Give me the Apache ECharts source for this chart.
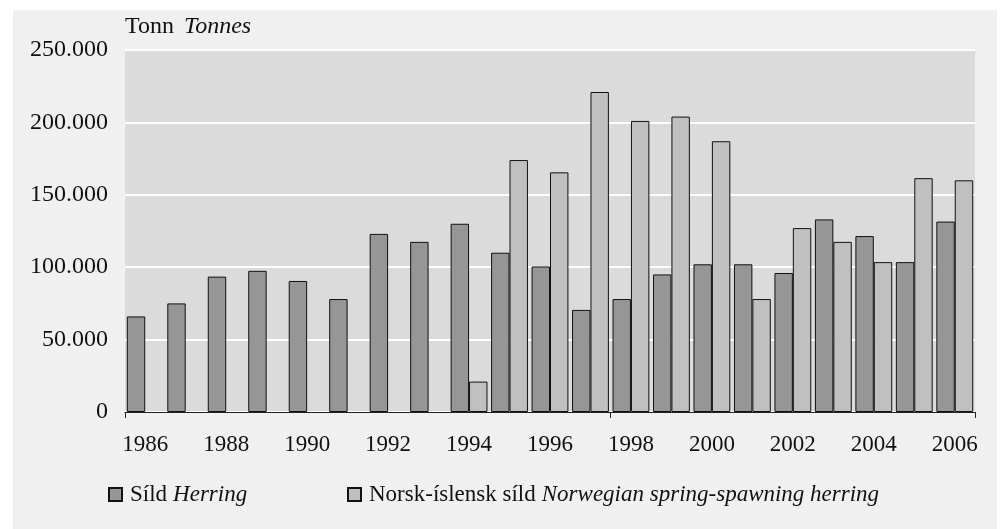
<!DOCTYPE html>
<html>
<head>
<meta charset="utf-8">
<script src="https://cdn.jsdelivr.net/npm/echarts@6/dist/echarts.min.js"></script>
<style>
  html, body { margin: 0; padding: 0; background: #fff; }
  #chart { width: 1002px; height: 529px; }
</style>
</head>
<body>
<div id="chart"></div>
<script>
// Ár / years
const years = ['1986', '1987', '1988', '1989', '1990', '1991', '1992', '1993', '1994', '1995', '1996',
	'1997', '1998', '1999', '2000', '2001', '2002', '2003', '2004', '2005', '2006'];

// Síld (tonn)
const herring = [66000, 75000, 93500, 97500, 90500, 78000, 123000, 117500, 130000, 110000, 100500,
	70500, 78000, 95000, 102000, 102000, 96000, 133000, 121500, 103500, 131500];

// Norsk-íslensk síld (tonn)
const norwegian = [null, null, null, null, null, null, null, null, 21000, 174000, 165500,
	221000, 201000, 204000, 187000, 78000, 127000, 117500, 103500, 161500, 160000];

const yTicks = [0, 50000, 100000, 150000, 200000, 250000];

const fontFamily = '"Liberation Serif", "DejaVu Serif", serif';
const fontSize = 23;

const chart = echarts.init(document.getElementById('chart'));

const fmtThousands = (v) => (v === 0 ? '0' : (v / 1000).toFixed(0) + '.000');

const richText = {
	a: { fontFamily: fontFamily, fontSize: fontSize, color: '#111' },
	b: { fontFamily: fontFamily, fontSize: fontSize, fontStyle: 'italic', color: '#111' },
};

const option = {
	backgroundColor: '#ffffff',
	animation: false,
	textStyle: { fontFamily: fontFamily, color: '#111' },
	graphic: [
		{
			type: 'rect',
			z: -10,
			shape: { x: 13, y: 10, width: 984, height: 519 },
			style: { fill: '#f0f0f0' },
		},
		{
			type: 'text',
			left: 125,
			top: 15,
			style: {
				text: '{a|Tonn}   {b|Tonnes}',
				rich: {
					a: { fontFamily: fontFamily, fontSize: 24, fill: '#111' },
					b: { fontFamily: fontFamily, fontSize: 24, fontStyle: 'italic', fill: '#111' },
				},
			},
		},
	],
	grid: {
		left: 125,
		right: 27,
		top: 50,
		bottom: 117,
		show: true,
		backgroundColor: '#dbdbdb',
		borderWidth: 0,
	},
	legend: [
		{
			left: 108,
			top: 483,
			padding: 0,
			itemWidth: 13,
			itemHeight: 13,
			icon: 'rect',
			data: ['herring'],
			formatter: () => '{a|Síld}  {b|Herring}',
			textStyle: { padding: [0, 0, 0, 3], rich: richText },
		},
		{
			left: 347,
			top: 483,
			padding: 0,
			itemWidth: 13,
			itemHeight: 13,
			icon: 'rect',
			data: ['norwegian'],
			formatter: () => '{a|Norsk-íslensk síld}  {b|Norwegian spring-spawning herring}',
			textStyle: { padding: [0, 0, 0, 3], rich: richText },
		},
	],
	xAxis: {
		type: 'category',
		data: years,
		axisLine: { lineStyle: { color: '#222', width: 1 } },
		axisTick: {
			show: true,
			interval: (index) => index === 0 || index === 12,
			length: 6,
			lineStyle: { color: '#222' },
		},
		axisLabel: {
			interval: 1,
			margin: 21,
			fontFamily: fontFamily,
			fontSize: fontSize,
			color: '#111',
		},
		splitLine: { show: false },
	},
	yAxis: {
		type: 'value',
		min: 0,
		max: 250000,
		interval: 50000,
		axisLine: { show: false },
		axisTick: { show: false },
		axisLabel: {
			margin: 17,
			fontFamily: fontFamily,
			fontSize: 24,
			color: '#111',
			formatter: (v) => (yTicks.includes(v) ? fmtThousands(v) : ''),
		},
		splitLine: { lineStyle: { color: '#ffffff', width: 2 } },
	},
	series: [
		{
			name: 'herring',
			type: 'bar',
			data: herring,
			barGap: '0%',
			barCategoryGap: '9%',
			itemStyle: { color: '#969696', borderColor: '#111', borderWidth: 1 },
		},
		{
			name: 'norwegian',
			type: 'bar',
			data: norwegian,
			itemStyle: { color: '#c0c0c0', borderColor: '#111', borderWidth: 1 },
		},
	],
};

chart.setOption(option);
</script>
</body>
</html>
